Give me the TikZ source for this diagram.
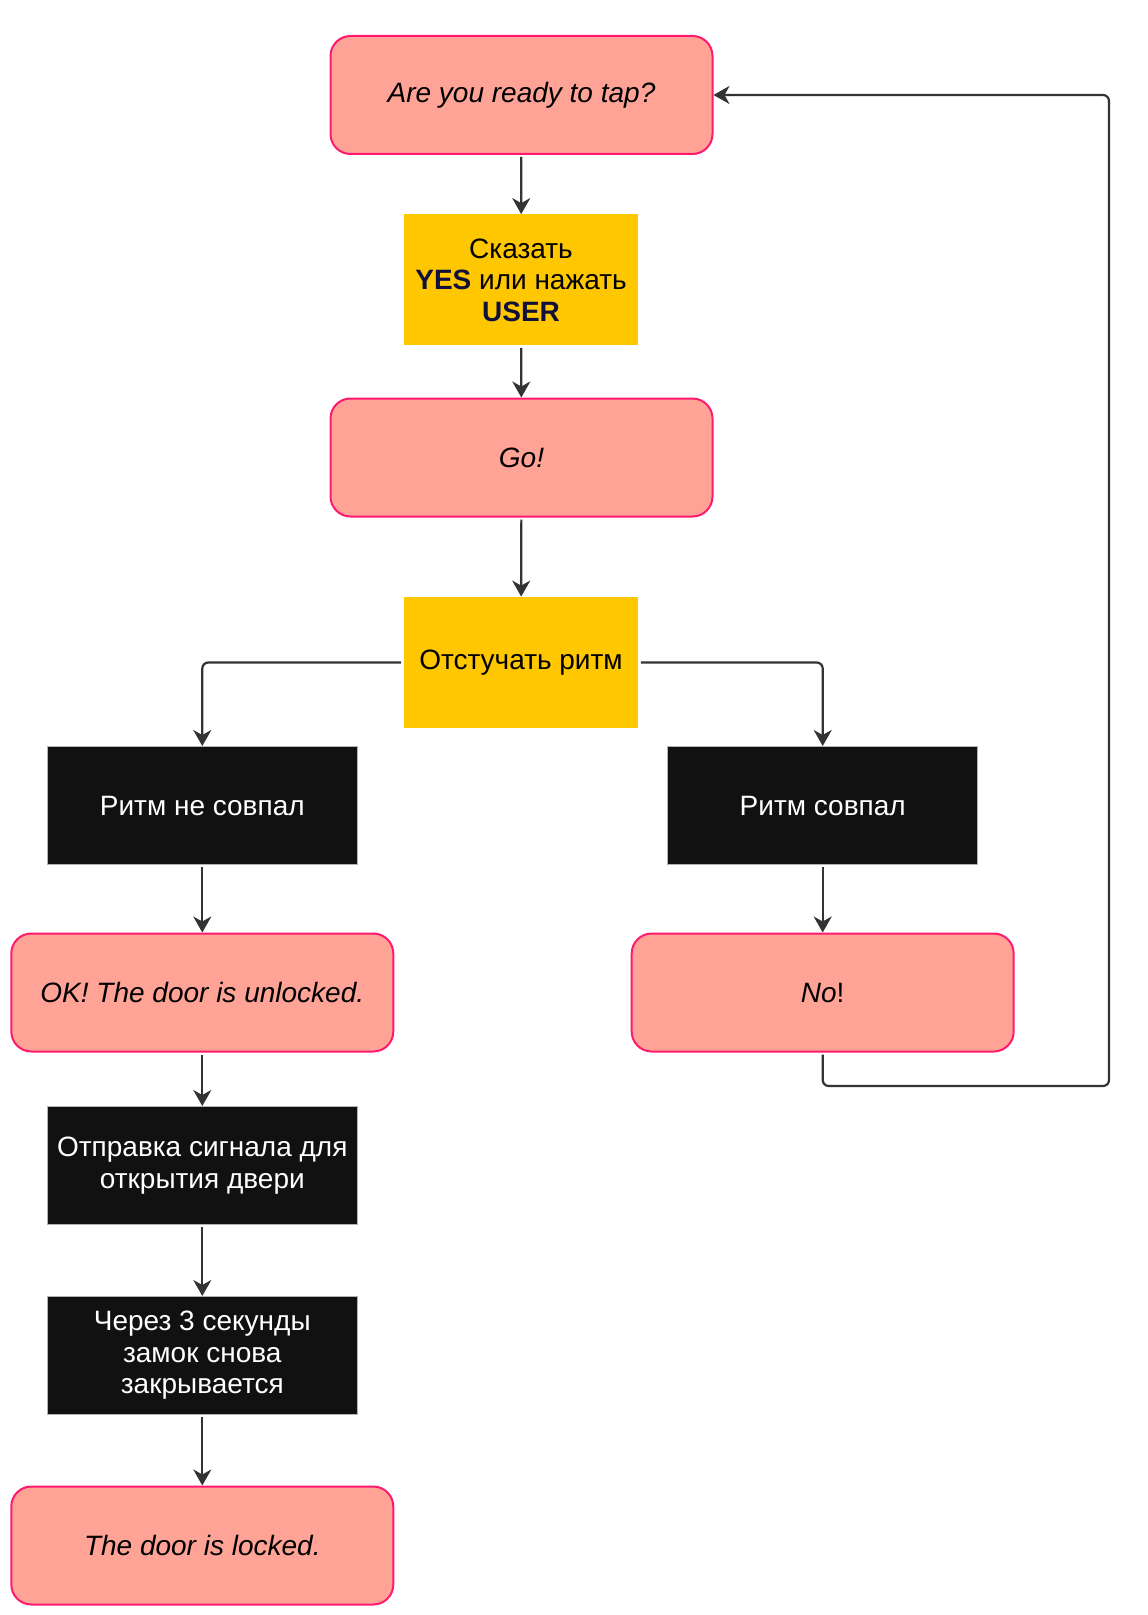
\documentclass[tikz,border=0pt]{standalone}
\usepackage{fontspec}
\setmainfont{Liberation Sans}
\usetikzlibrary{arrows.meta}
\definecolor{salmon}{HTML}{FFA397}
\definecolor{pinkline}{HTML}{FF1A6E}
\definecolor{gold}{HTML}{FFC700}
\definecolor{ink}{HTML}{111111}
\definecolor{navy}{HTML}{10103A}
\definecolor{wire}{HTML}{333333}
\newcommand\boxfont{\fontsize{14}{15.7}\selectfont}
\begin{document}
\begin{tikzpicture}[x=0.5pt,y=-0.5pt,
  msg/.style={draw=pinkline,fill=salmon,line width=1pt,rounded corners=10pt,
    minimum width=191pt,minimum height=59pt,inner sep=0pt,align=center,font=\boxfont\itshape},
  act/.style={fill=gold,minimum width=117.4pt,minimum height=65.5pt,inner sep=0pt,align=center,font=\boxfont},
  dark/.style={draw=gray!60,fill=ink,text=white,line width=0.5pt,minimum width=155pt,
    minimum height=59pt,inner sep=0pt,align=center,font=\boxfont},
  flow/.style={draw=wire,line width=1.1pt,rounded corners=3pt,shorten <=1pt,
    -{Stealth[length=8pt,width=9pt,inset=2.5pt]}}]
 \useasboundingbox (0,0) rectangle (1147,1615);
 \node[msg] (ask) at (521.5,95) {Are you ready to tap?};
 \node[act] (say) at (521,280) {Сказать\\\textcolor{navy}{\textbf{YES}} или нажать\\\textcolor{navy}{\textbf{USER}}};
 \node[msg] (go) at (521.5,457.5) {Go!};
 \node[act] (tap) at (521,662.5) {Отстучать ритм};
 \node[dark] (miss) at (202.3,805.5) {Ритм не совпал};
 \node[dark] (match) at (822.7,805.5) {Ритм совпал};
 \node[msg] (open) at (202.3,992.5) {OK! The door is unlocked.};
 \node[msg] (no) at (822.7,992.5) {\textit{No}\upshape!};
 \node[dark] (signal) at (202.3,1165.5) {Отправка сигнала для\\открытия двери};
 \node[dark] (wait) at (202.3,1355.5) {Через 3 секунды\\замок снова\\закрывается};
 \node[msg] (locked) at (202.3,1545.5) {The door is locked.};
 \coordinate (loop) at (1109,1086);
 \draw[flow] (ask) -- (say);
 \draw[flow] (say) -- (go);
 \draw[flow] (go) -- (tap);
 \draw[flow] (tap.west) -| (miss.north);
 \draw[flow] (tap.east) -| (match.north);
 \draw[flow] (miss) -- (open);
 \draw[flow] (match) -- (no);
 \draw[flow] (open) -- (signal);
 \draw[flow] (signal) -- (wait);
 \draw[flow] (wait) -- (locked);
 \draw[flow] (no.south) |- (loop) |- (ask.east);
\end{tikzpicture}
\end{document}
